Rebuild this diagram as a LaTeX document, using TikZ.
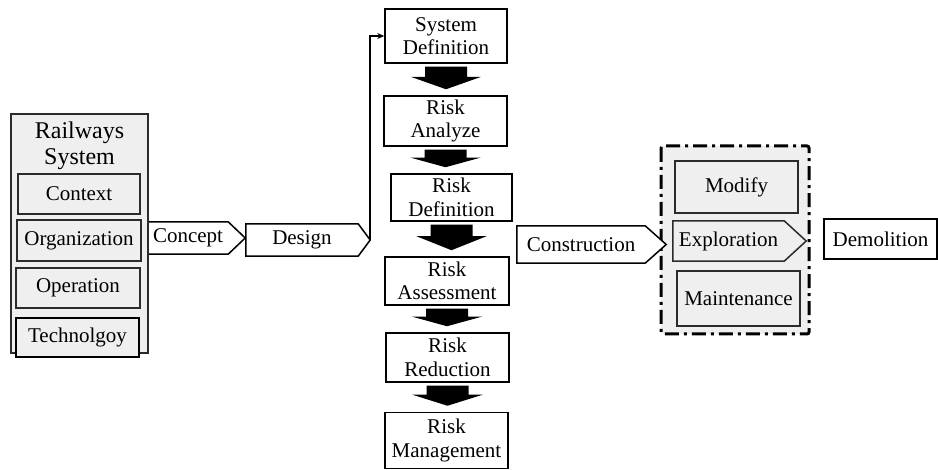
\documentclass[tikz,border=0pt]{standalone}
\usepackage{fontspec}
\setmainfont{Liberation Serif}
\usetikzlibrary{calc,backgrounds,arrows.meta}
\definecolor{panel}{HTML}{EFEFEF}
\definecolor{edge}{HTML}{2B2B2B}
\tikzset{
  txt/.style={font=\fontsize{21}{23.5}\selectfont, align=center, inner sep=0pt},
  flowbox/.style={txt, draw=black, line width=1.5pt, fill=white},
  graybox/.style={txt, draw=edge, line width=1.6pt, fill=panel},
  tagline/.style={draw=black, line width=1.5pt, line join=miter, fill=white},
  graytag/.style={tagline, draw=edge, fill=panel},
  feed/.style={line width=1.8pt, -{Stealth[length=7pt,width=6pt]}},
  phasebox/.style={draw=black, line width=3pt, fill=panel, rounded corners=2pt,
    dash pattern=on 14pt off 5pt on 3pt off 5pt},
}
% outline of a tag-shaped node: body rectangle plus a pointed right end
\newcommand\tagoutline[3]{%
  \draw[#3] (#1.north west) -- (#1.north east) -- ($(#1.east)+(#2,0)$) coordinate (#1-tip)
    -- (#1.south east) -- (#1.south west) -- cycle;}
% thick black down arrow between two stacked boxes
\newcommand\blockarrow[2]{%
  \fill[black] let \p1=(#1.south), \p2=(#2.north),
      \n1={\y1-3pt}, \n2={\y2+6pt}, \n3={\y1-3pt-0.45*(\y1-\y2-9pt)} in
    (\x1-21pt,\n1) -- (\x1+21pt,\n1) -- (\x1+21pt,\n3) -- (\x1+35pt,\n3)
    -- (\x1,\n2) -- (\x1-35pt,\n3) -- (\x1-21pt,\n3) -- cycle;}
\begin{document}
\begin{tikzpicture}[x=1pt,y=-1pt]
\useasboundingbox (0,0) rectangle (938,470);

% Railways system block
\node[graybox, minimum width=137, minimum height=239] (rail) at (79.5,233.5) {};
\node[txt, font=\fontsize{24}{26}\selectfont] (railtitle) at (79.5,146) {Railways\\System};
\node[graybox, minimum width=122, minimum height=40] (context) at (79,194) {Context};
\node[graybox, minimum width=124, minimum height=41] (organization) at (79,240.5) {Organization};
\node[graybox, minimum width=124, minimum height=40] (operation) at (78,288) {Operation};
\node[graybox, draw=black, minimum width=123, minimum height=39] (technology) at (77.5,337.5) {Technolgoy};

% life-cycle stages
\node[txt, minimum width=80, minimum height=32] (concept) at (188,238) {Concept};
\node[txt, minimum width=112, minimum height=32] (design) at (302,240) {Design};
\node[txt, minimum width=128, minimum height=37] (construction) at (581,244.5) {Construction};
\node[txt, minimum width=111, minimum height=40] (exploration) at (728.5,241) {Exploration};
\node[flowbox, minimum width=113, minimum height=40] (demolition) at (880.5,239) {Demolition};

% operation phase
\node[graybox, minimum width=123, minimum height=52] (modify) at (736.5,187) {Modify};
\node[graybox, minimum width=123, minimum height=55] (maintenance) at (738.5,298.5) {Maintenance};

% risk process
\node[flowbox, minimum width=122, minimum height=54] (sysdef) at (446,36) {System\\Definition};
\node[flowbox, minimum width=123, minimum height=50] (riskan) at (445.5,121) {Risk\\Analyze};
\node[flowbox, minimum width=121, minimum height=47] (riskdef) at (451.5,197.5) {Risk\\Definition};
\node[flowbox, minimum width=124, minimum height=48] (riskass) at (447,281) {Risk\\Assessment};
\node[flowbox, minimum width=123, minimum height=49] (riskred) at (447.5,357.5) {Risk\\Reduction};
\node[flowbox, minimum width=123, minimum height=56] (riskman) at (446.5,440.5) {Risk\\Management};

\begin{scope}[on background layer]
  \draw[phasebox] (661,146) rectangle (809,334);
  \tagoutline{concept}{17}{tagline}
  \tagoutline{design}{12}{tagline}
  \tagoutline{construction}{21}{tagline}
  \tagoutline{exploration}{22}{graytag}
\end{scope}

\blockarrow{sysdef}{riskan}
\blockarrow{riskan}{riskdef}
\blockarrow{riskdef}{riskass}
\blockarrow{riskass}{riskred}
\blockarrow{riskred}{riskman}

\draw[feed] (design-tip) |- (sysdef.west);
\end{tikzpicture}
\end{document}
